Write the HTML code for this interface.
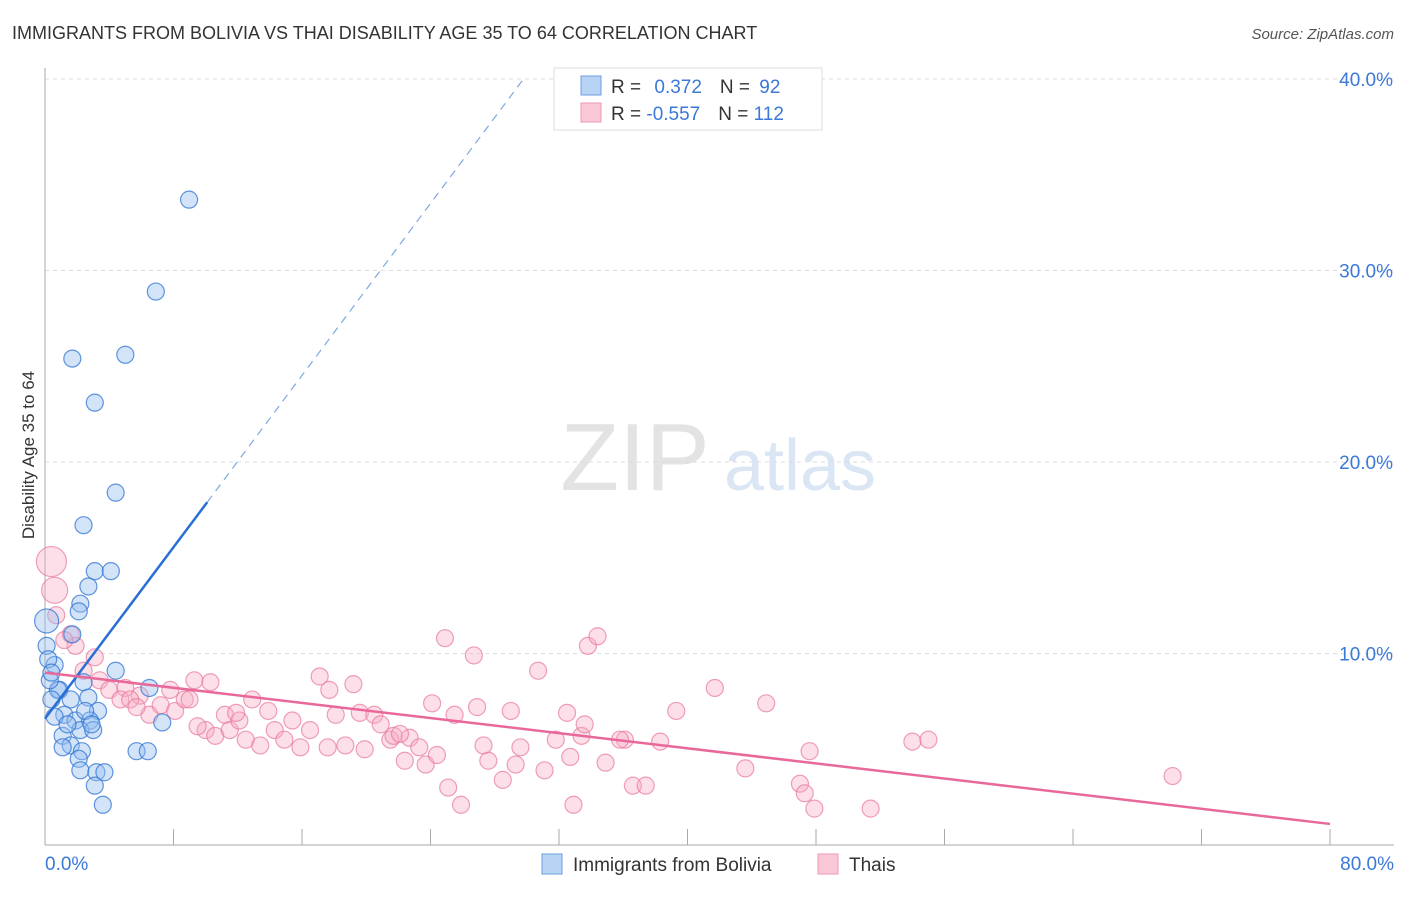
<!DOCTYPE html>
<html><head><meta charset="utf-8"><style>
body{margin:0;background:#fff;font-family:"Liberation Sans",sans-serif}
svg text{font-family:"Liberation Sans",sans-serif}
</style></head><body>
<svg width="1406" height="892" viewBox="0 0 1406 892" xmlns="http://www.w3.org/2000/svg">
<text x="12" y="39" font-size="18" fill="#333">IMMIGRANTS FROM BOLIVIA VS THAI DISABILITY AGE 35 TO 64 CORRELATION CHART</text>
<text x="1394" y="39" font-size="15" fill="#555" font-style="italic" text-anchor="end">Source: ZipAtlas.com</text>
<text x="635" y="490" font-size="96" fill="#e3e3e3" font-family="Liberation Serif" text-anchor="middle">ZIP</text>
<text x="800" y="490" font-size="72" fill="#dbe6f5" text-anchor="middle">atlas</text>
<g id="grid"></g>
<g id="axes"></g>
<g id="pts"></g>
<g id="trend"></g>
<text transform="translate(34,455) rotate(-90)" font-size="17" fill="#333" text-anchor="middle">Disability Age 35 to 64</text>
<g>
<rect x="554" y="68" width="268" height="62" fill="#fff" stroke="#ddd"/>
<rect x="581" y="76" width="20" height="19" fill="#b9d3f5" stroke="#6a9fe0"/>
<rect x="581" y="103" width="20" height="19" fill="#fbc8d7" stroke="#ee98b2"/>
<text x="611" y="93" font-size="19" fill="#333">R = <tspan fill="#3b78d8" dx="8">0.372</tspan><tspan dx="18" fill="#333">N = </tspan><tspan fill="#3b78d8" dx="4">92</tspan></text>
<text x="611" y="120" font-size="19" fill="#333">R = <tspan fill="#3b78d8">-0.557</tspan><tspan dx="18" fill="#333">N = </tspan><tspan fill="#3b78d8">112</tspan></text>
</g>
<g>
<rect x="542" y="854" width="20" height="20" fill="#b9d3f5" stroke="#6a9fe0"/>
<text x="573" y="871" font-size="19" fill="#333">Immigrants from Bolivia</text>
<rect x="818" y="854" width="20" height="20" fill="#fbc8d7" stroke="#ee98b2"/>
<text x="849" y="871" font-size="19" fill="#333">Thais</text>
</g>
</svg>
<script>
const yTicks=[10,20,30,40];
const yTickLabels=["10.0%","20.0%","30.0%","40.0%"];
const xTicks=[0,8,16,24,32,40,48,56,64,72,80];
const xEndLabels=["0.0%","80.0%"];
const blueX=[8.97,6.9,1.7,5.0,3.1,4.4,2.4,3.1,4.1,2.7,2.2,2.1,0.1,1.7,0.1,4.4,6.5,2.4,0.6,0.9,1.6,2.7,3.3,1.2,1.9,2.8,0.6,1.1,2.2,3.0,1.6,2.3,1.1,2.1,2.2,3.2,3.1,3.6,5.7,6.4,7.3,0.8,0.3,0.4,1.4,2.5,2.9,0.2,0.4,3.7];
const blueY=[33.7,28.9,25.4,25.6,23.1,18.4,16.7,14.3,14.3,13.5,12.6,12.2,11.7,11.0,10.4,9.1,8.2,8.5,9.4,8.1,7.6,7.7,7.0,6.8,6.5,6.5,6.7,5.7,6.0,6.0,5.2,4.9,5.1,4.5,3.9,3.8,3.1,2.1,4.9,4.9,6.4,8.1,8.6,7.6,6.3,7.0,6.3,9.7,9.0,3.8];
const pinkX=[0.4,0.6,0.7,1.6,1.9,3.1,3.4,2.4,4.0,5.0,5.9,6.5,7.2,7.8,8.1,8.7,9.3,10.3,10.0,9.0,10.6,11.2,11.5,12.1,12.5,12.9,13.4,13.9,14.3,14.9,15.4,15.9,16.5,17.1,17.6,18.1,18.7,19.2,19.6,19.9,20.5,20.9,21.5,22.4,22.7,23.3,23.7,24.1,24.4,24.9,25.1,25.5,25.9,26.7,26.9,27.3,27.6,28.5,29.0,29.3,29.6,30.7,31.1,31.8,32.5,32.7,32.9,33.4,33.8,34.4,34.9,36.1,36.6,37.4,38.3,39.3,41.7,43.6,44.9,47.0,47.3,47.6,47.9,51.4,54.0,55.0,70.2,1.2,4.7,5.3,5.7,9.5,11.9,17.7,21.7,22.1,33.6,35.8];
const pinkY=[14.8,13.3,12.0,11.0,10.4,9.8,8.6,9.1,8.1,8.2,7.8,6.8,7.3,8.1,7.0,7.6,8.6,8.5,6.0,7.6,5.7,6.8,6.0,6.5,5.5,7.6,5.2,7.0,6.0,5.5,6.5,5.1,6.0,8.8,5.1,6.8,5.2,8.4,6.9,5.0,6.8,6.3,5.5,4.4,5.6,5.1,4.2,7.4,4.7,10.8,3.0,6.8,2.1,9.9,7.2,5.2,4.4,3.4,7.0,4.2,5.1,9.1,3.9,5.5,6.9,4.6,2.1,5.7,10.4,10.9,4.3,5.5,3.1,3.1,5.4,7.0,8.2,4.0,7.4,3.2,2.7,4.9,1.9,1.9,5.4,5.5,3.6,10.7,7.6,7.6,7.2,6.2,6.9,8.1,5.7,5.8,6.3,5.5];
const blueTrendX=[0,10.1,29.7];
const blueTrendY=[6.6,17.9,39.9];
const pinkTrendX=[0,80];
const pinkTrendY=[9.0,1.1];
const NS="http://www.w3.org/2000/svg";
const sx=v=>45+v*16.0625, sy=v=>845-v*19.15;
function mk(tag,attrs,parent){const e=document.createElementNS(NS,tag);for(const k in attrs)e.setAttribute(k,attrs[k]);parent.appendChild(e);return e;}
const grid=document.getElementById('grid'),axes=document.getElementById('axes'),pts=document.getElementById('pts'),trend=document.getElementById('trend');
yTicks.forEach((t,i)=>{
 const l=mk('line',{x1:45,x2:1394,y1:sy(t),y2:sy(t),stroke:'#ddd','stroke-dasharray':'4,4'},grid);
 
 
 const tx=mk('text',{x:1393,y:sy(t)+7,'font-size':19,fill:'#3b78d8','text-anchor':'end'},axes);
 tx.textContent=yTickLabels[i];
 
 
});
const ya=mk('line',{x1:45,x2:45,y1:68,y2:845,stroke:'#aaa'},axes);


const xa=mk('line',{x1:45,x2:1394,y1:845,y2:845,stroke:'#aaa'},axes);


xTicks.forEach(t=>{
 const l=mk('line',{x1:sx(t),x2:sx(t),y1:829,y2:845,stroke:'#aaa'},axes);
 
 
});
const xl0=mk('text',{x:45,y:870,'font-size':19,fill:'#3b78d8'},axes);xl0.textContent=xEndLabels[0];


const xl1=mk('text',{x:1394,y:870,'font-size':19,fill:'#3b78d8','text-anchor':'end'},axes);xl1.textContent=xEndLabels[1];


pinkX.forEach((x,i)=>{
 const r=i===0?15:(i===1?13:8.5);
 const c=mk('circle',{cx:sx(x),cy:sy(pinkY[i]),r:r,fill:'rgba(248,170,195,0.38)',stroke:'rgba(232,120,155,0.7)','stroke-width':1.2},pts);
 
 
});
blueX.forEach((x,i)=>{
 const r=i===12?12:8.5;
 const c=mk('circle',{cx:sx(x),cy:sy(blueY[i]),r:r,fill:'rgba(150,190,240,0.42)',stroke:'rgba(45,115,210,0.75)','stroke-width':1.2},pts);
 
 
});
const bt=mk('line',{x1:sx(blueTrendX[0]),y1:sy(blueTrendY[0]),x2:sx(blueTrendX[1]),y2:sy(blueTrendY[1]),stroke:'#2a6fd6','stroke-width':2.5},trend);


const bd=mk('line',{x1:sx(blueTrendX[1]),y1:sy(blueTrendY[1]),x2:sx(blueTrendX[2]),y2:sy(blueTrendY[2]),stroke:'#7fa8e0','stroke-width':1.2,'stroke-dasharray':'8,6'},trend);


const pt=mk('line',{x1:sx(pinkTrendX[0]),y1:sy(pinkTrendY[0]),x2:sx(pinkTrendX[1]),y2:sy(pinkTrendY[1]),stroke:'#e8689a','stroke-width':2.5},trend);


</script>
</body></html>
